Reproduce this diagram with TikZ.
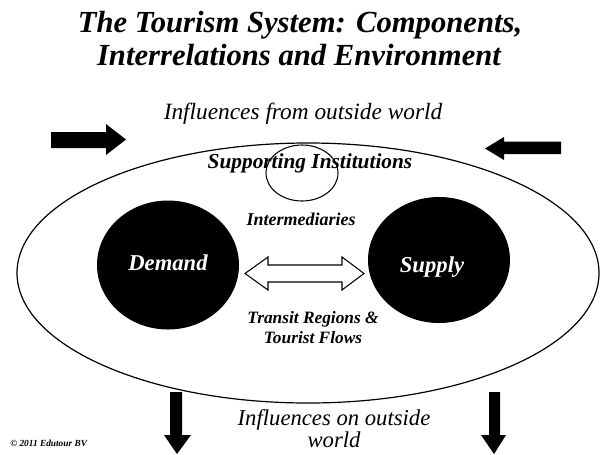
\documentclass[tikz,border=0pt]{standalone}
\usepackage{fontspec}
\setmainfont{Liberation Serif}
\usetikzlibrary{shapes.geometric}
\begin{document}
\begin{tikzpicture}[x=0.75pt,y=-0.75pt,
  lbl/.style={inner sep=0pt, align=center},
  bi/.style={font=\fontsize{#1}{#1}\selectfont\bfseries\itshape},
  it/.style={font=\fontsize{#1}{#1}\selectfont\itshape},
  disc/.style={ellipse, fill=black, inner sep=0pt, minimum width=106.5pt},
  blockarrow/.style={fill=black, draw=none},
  boundary/.style={draw=black, line width=0.9pt},
]
\useasboundingbox (0,0) rectangle (602,454);
\fill[white] (0,0) rectangle (602,454);

% heading
\node[lbl, bi=23, anchor=base] (title1) at (300,32) {The Tourism System: Components,};
\node[lbl, bi=23, anchor=base] (title2) at (299,65) {Interrelations and Environment};

% influences entering the system
\node[lbl, it=17.5, anchor=base] (inflin) at (303,119) {Influences from outside world};
\fill[blockarrow] (51,132) -- (106,132) -- (106,124) -- (126,139.5) -- (106,155) -- (106,148) -- (51,148) -- cycle;
\fill[blockarrow] (561,141.5) -- (504,141.5) -- (504,137) -- (485,148.5) -- (504,160) -- (504,154) -- (561,154) -- cycle;

% the tourism system
\draw[boundary] (308,273) ellipse [x radius=291, y radius=130];
\node[boundary, ellipse, inner sep=0pt, minimum width=54pt, minimum height=42pt, line width=0.8pt] (instcircle) at (302,173) {};
\node[lbl, bi=16, anchor=base] (support) at (310,168) {Supporting Institutions};
\node[lbl, bi=13.5, anchor=base] (interm) at (301,225) {Intermediaries};

\node[disc, minimum height=96.75pt] (demand) at (168,265) {};
\node[disc, minimum height=94.5pt] (supply) at (439,260) {};
\node[lbl, bi=17, text=white] (demandtxt) at (168,263) {Demand};
\node[lbl, bi=17, text=white] (supplytxt) at (432,267) {Supply};

% flows between demand and supply
\draw[fill=white, line width=0.8pt, line join=miter]
  (245,273.5) -- (268,257) -- (268,265) -- (342,265) -- (342,257) -- (364,273.5)
  -- (342,290) -- (342,282) -- (268,282) -- (268,290) -- cycle;
\node[lbl, font=\fontsize{13}{15}\selectfont\bfseries\itshape] (transit) at (313,328) {Transit Regions \&\\Tourist Flows};

% influences leaving the system
\fill[blockarrow] (170,392) -- (182,392) -- (182,435) -- (191,435) -- (177,454) -- (164,435) -- (170,435) -- cycle;
\fill[blockarrow] (489,392) -- (500,392) -- (500,435) -- (506,435) -- (494,454) -- (481,435) -- (489,435) -- cycle;
\node[lbl, font=\fontsize{17}{14.5}\selectfont\itshape] (inflout) at (334,429) {Influences on outside\\world};

\node[lbl, bi=7, anchor=west] (copy) at (10,443) {© 2011 Edutour BV};
\end{tikzpicture}
\end{document}
